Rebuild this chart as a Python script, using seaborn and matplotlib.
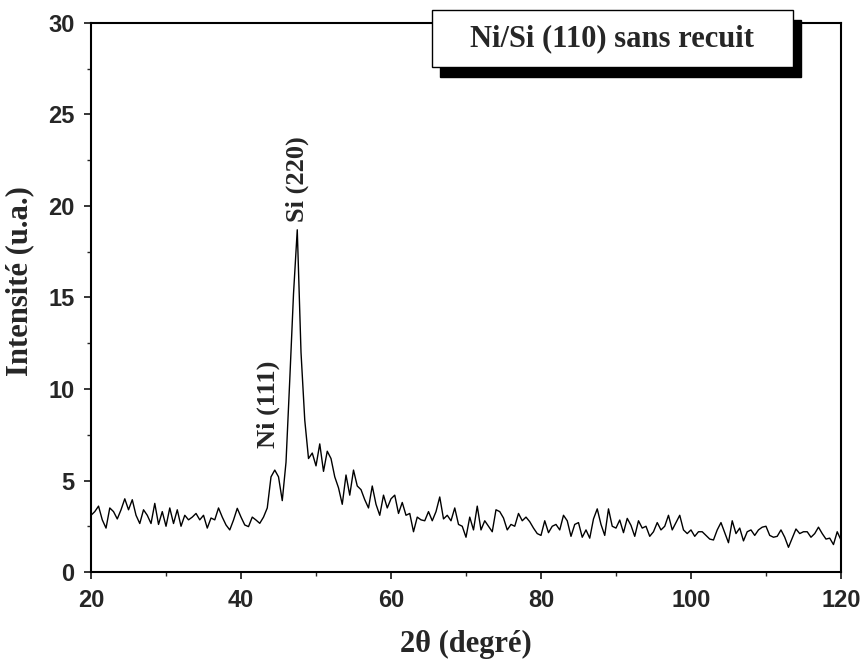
import numpy as np
import matplotlib
matplotlib.use('Agg')
import matplotlib.pyplot as plt
from matplotlib.patches import Rectangle
from matplotlib.ticker import MultipleLocator
import seaborn as sns

# 2theta grid (degrees), 0.5 step
two_theta = np.arange(20, 120.01, 0.5)

# intensity, one row = 5 degrees (10 points)
intensity = [
    3.1, 3.3, 3.6, 2.85, 2.4, 3.5, 3.3, 2.9, 3.4, 4.0,       # 20
    3.4, 3.95, 3.1, 2.65, 3.4, 3.1, 2.65, 3.75, 2.6, 3.3,    # 25
    2.5, 3.5, 2.65, 3.4, 2.5, 3.1, 2.85, 3.0, 3.2, 2.85,     # 30
    3.1, 2.4, 2.95, 2.85, 3.5, 3.0, 2.57, 2.3, 2.84, 3.48,   # 35
    3.0, 2.57, 2.48, 3.0, 2.84, 2.66, 3.0, 3.5, 5.2, 5.57,   # 40
    5.2, 3.9, 6.0, 10.5, 15.2, 18.7, 12.0, 8.3, 6.2, 6.5,    # 45
    5.8, 7.0, 5.5, 6.6, 6.2, 5.2, 4.6, 3.7, 5.3, 4.2,        # 50
    5.57, 4.7, 4.5, 3.95, 3.5, 4.7, 3.7, 3.1, 4.2, 3.5,      # 55
    4.0, 4.2, 3.2, 3.8, 3.1, 3.2, 2.2, 3.0, 2.85, 2.8,       # 60
    3.3, 2.8, 3.3, 4.1, 2.9, 3.1, 2.8, 3.5, 2.6, 2.5,        # 65
    1.9, 3.0, 2.3, 3.6, 2.3, 2.8, 2.5, 2.2, 3.4, 3.3,        # 70
    2.95, 2.3, 2.6, 2.5, 3.2, 2.8, 3.0, 2.75, 2.4, 2.1,      # 75
    2.0, 2.8, 2.15, 2.5, 2.6, 2.3, 3.1, 2.8, 1.95, 2.6,      # 80
    2.7, 1.9, 2.3, 1.85, 2.9, 3.45, 2.6, 2.0, 3.45, 2.5,     # 85
    2.4, 2.84, 2.15, 2.93, 2.55, 1.95, 2.8, 2.4, 2.5, 1.95,  # 90
    2.2, 2.7, 2.3, 2.5, 3.1, 2.3, 2.7, 3.1, 2.3, 2.1,        # 95
    2.3, 1.95, 2.2, 2.2, 2.0, 1.8, 1.75, 2.3, 2.7, 2.15,     # 100
    1.6, 2.8, 2.1, 2.4, 1.7, 2.2, 2.3, 2.0, 2.3, 2.45,       # 105
    2.5, 2.0, 1.9, 1.95, 2.3, 1.9, 1.35, 1.85, 2.35, 2.1,    # 110
    2.2, 2.2, 1.9, 2.1, 2.45, 2.1, 1.8, 1.85, 1.5, 2.2,      # 115
    1.75,                                                    # 120
]

peak_labels = ['Ni (111)', 'Si (220)']
peak_x = [43.6, 47.45]
peak_y = [6.8, 19.1]

title = 'Ni/Si (110) sans recuit'
x_label = '2\u03b8 (degr\u00e9)'
y_label = 'Intensit\u00e9 (u.a.)'

sns.set_style('ticks')
plt.rcParams['font.family'] = ['Liberation Sans', 'DejaVu Sans']

fig = plt.figure(figsize=(8.62, 6.68), dpi=100)
ax = fig.add_axes([0.1056, 0.1437, 0.87, 0.8219])

sns.lineplot(x=two_theta, y=intensity, color='black', linewidth=1.0, ax=ax)

ax.set_xlim(20, 120)
ax.set_ylim(0, 30)
ax.xaxis.set_major_locator(MultipleLocator(20))
ax.xaxis.set_minor_locator(MultipleLocator(10))
ax.yaxis.set_major_locator(MultipleLocator(5))
ax.yaxis.set_minor_locator(MultipleLocator(2.5))
ax.tick_params(which='major', direction='out', length=5, width=1.3,
               labelsize=17, pad=7)
ax.tick_params(which='minor', direction='out', length=3, width=1.0)
for lab in ax.get_xticklabels() + ax.get_yticklabels():
    lab.set_fontweight('bold')

for s in ax.spines.values():
    s.set_linewidth(1.5)
    s.set_color('black')

serif = ['Liberation Serif', 'DejaVu Serif']
ax.set_xlabel(x_label, fontsize=22, fontweight='bold', family=serif)
ax.set_ylabel(y_label, fontsize=22, fontweight='bold', family=serif)
ax.xaxis.set_label_coords(0.5, -0.105)
ax.yaxis.set_label_coords(-0.076, 0.53)

for lab, px, py in zip(peak_labels, peak_x, peak_y):
    ax.text(px, py, lab, rotation=90, ha='center', va='bottom',
            fontsize=19, fontweight='bold', family=serif)

# title box with drop shadow
ax.add_patch(Rectangle((0.4653, 0.9016), 0.4813, 0.1038, transform=ax.transAxes,
                       facecolor='black', edgecolor='black', clip_on=False, zorder=5))
ax.add_patch(Rectangle((0.4547, 0.9199), 0.4813, 0.1038, transform=ax.transAxes,
                       facecolor='white', edgecolor='black', linewidth=1.0,
                       clip_on=False, zorder=6))
ax.text(0.6953, 0.9718, title, transform=ax.transAxes, ha='center', va='center',
        fontsize=22, fontweight='bold', family=serif, zorder=7)

fig.savefig('out.png', dpi=100)
